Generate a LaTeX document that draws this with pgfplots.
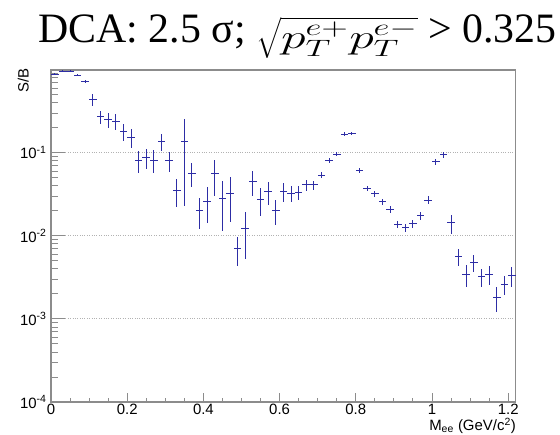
\RequirePackage{fix-cm}
\documentclass[border=0pt]{standalone}
\usepackage{fontspec}
\setmainfont{Liberation Serif}
\newfontfamily\arial{Liberation Sans}
\usepackage{pgfplots}
\usepackage{pgfplotstable}
\pgfplotsset{compat=1.18}
\definecolor{dblue}{RGB}{45,45,165}
\definecolor{framegray}{RGB}{140,140,140}
\pgfplotstableread{
x y ey
0.01 0.88 0.02
0.03 0.96 0.02
0.05 0.96 0.02
0.07 0.86 0.02
0.09 0.73 0.03
0.11 0.44 0.075
0.13 0.27 0.05
0.15 0.25 0.052
0.17 0.24 0.05
0.19 0.18 0.04
0.21 0.153 0.038
0.23 0.0817 0.024
0.25 0.087 0.024
0.27 0.0817 0.025
0.29 0.136 0.032
0.31 0.080 0.021
0.33 0.035 0.013
0.35 0.138 0.115
0.37 0.0565 0.018
0.39 0.0202 0.008
0.41 0.0262 0.012
0.43 0.0565 0.026
0.45 0.0283 0.017
0.47 0.0327 0.018
0.49 0.00705 0.0027
0.51 0.0123 0.007
0.53 0.0452 0.015
0.55 0.0275 0.01
0.57 0.0343 0.0105
0.59 0.0202 0.0068
0.61 0.0343 0.0085
0.63 0.0324 0.0072
0.65 0.0334 0.0065
0.67 0.0411 0.0065
0.69 0.0411 0.005
0.71 0.0535 0.0045
0.73 0.080 0.0055
0.75 0.0965 0.0045
0.77 0.167 0.01
0.79 0.171 0.008
0.81 0.0614 0.004
0.83 0.0373 0.0025
0.85 0.0324 0.0027
0.87 0.0257 0.0022
0.89 0.0208 0.0019
0.91 0.0138 0.0013
0.93 0.0125 0.0013
0.95 0.0141 0.0016
0.97 0.0174 0.0019
0.99 0.0269 0.0029
1.01 0.078 0.006
1.03 0.094 0.007
1.05 0.0143 0.0037
1.07 0.00558 0.0013
1.09 0.00343 0.001
1.11 0.00473 0.0011
1.13 0.0032 0.0008
1.15 0.00343 0.0009
1.17 0.00181 0.0006
1.19 0.00262 0.0007
1.21 0.0033 0.0009
}\data
\begin{document}
\begin{tikzpicture}
\path[use as bounding box] (-51bp,-33bp) rectangle (509bp,402bp);
\begin{axis}[
  at={(0,0)}, anchor=south west, scale only axis,
  width=464.8bp, height=332bp,
  ymode=log, xmin=0, xmax=1.22, ymin=1e-4, ymax=0.99,
  xtick={0,0.2,0.4,0.6,0.8,1,1.2},
  xticklabels={0,0.2,0.4,0.6,0.8,1,1.2},
  minor x tick num=3,
  ytick={1e-4,1e-3,1e-2,1e-1},
  yticklabels={10\textsuperscript{-4},10\textsuperscript{-3},10\textsuperscript{-2},10\textsuperscript{-1}},
  minor ytick={2e-4,3e-4,4e-4,5e-4,6e-4,7e-4,8e-4,9e-4,2e-3,3e-3,4e-3,5e-3,6e-3,7e-3,8e-3,9e-3,2e-2,3e-2,4e-2,5e-2,6e-2,7e-2,8e-2,9e-2,2e-1,3e-1,4e-1,5e-1,6e-1,7e-1,8e-1,9e-1},
  tick align=inside, xtick pos=left, ytick pos=left,
  axis line style={framegray, line width=1.1bp},
  tick style={framegray, line width=0.9bp},
  major tick length=9bp, minor tick length=4.5bp,
  ytick style={/pgfplots/major tick length=14bp, /pgfplots/minor tick length=7bp},
  ymajorgrids, major grid style={dotted, gray!60, line width=1bp},
  tick label style={font=\arial\fontsize{15}{18}\selectfont},
  xticklabel style={yshift=1bp},
  yticklabel style={xshift=-1bp},
  clip=true,
]
\addplot[color=dblue, mark=none, draw opacity=0,
  error bars/.cd, x dir=both, x fixed=0.01, y dir=both, y explicit,
  error mark=none, error bar style={color=dblue, draw opacity=1, solid, line width=1bp}]
  table[x=x, y=y, y error=ey] {\data};
\end{axis}
\node[font=\arial\fontsize{15}{18}\selectfont, rotate=90, anchor=south east, inner sep=0pt] at (-22bp,334bp) {S/B};
\node[font=\arial\fontsize{15}{18}\selectfont, anchor=base east, inner sep=0pt] at (465bp,-28.5bp) {M\textsubscript{ee} (GeV/c\textsuperscript{2})};
\node[font=\fontsize{42}{48}\selectfont, anchor=base, inner sep=0pt] at (246.5bp,359bp) {DCA: 2.5 σ; \raisebox{-6pt}{\scalebox{2.5}[1.7]{\fontsize{20}{24}\selectfont$\sqrt{p_T^{e+}p_T^{e-}}$}} > 0.325};
\end{tikzpicture}
\end{document}
